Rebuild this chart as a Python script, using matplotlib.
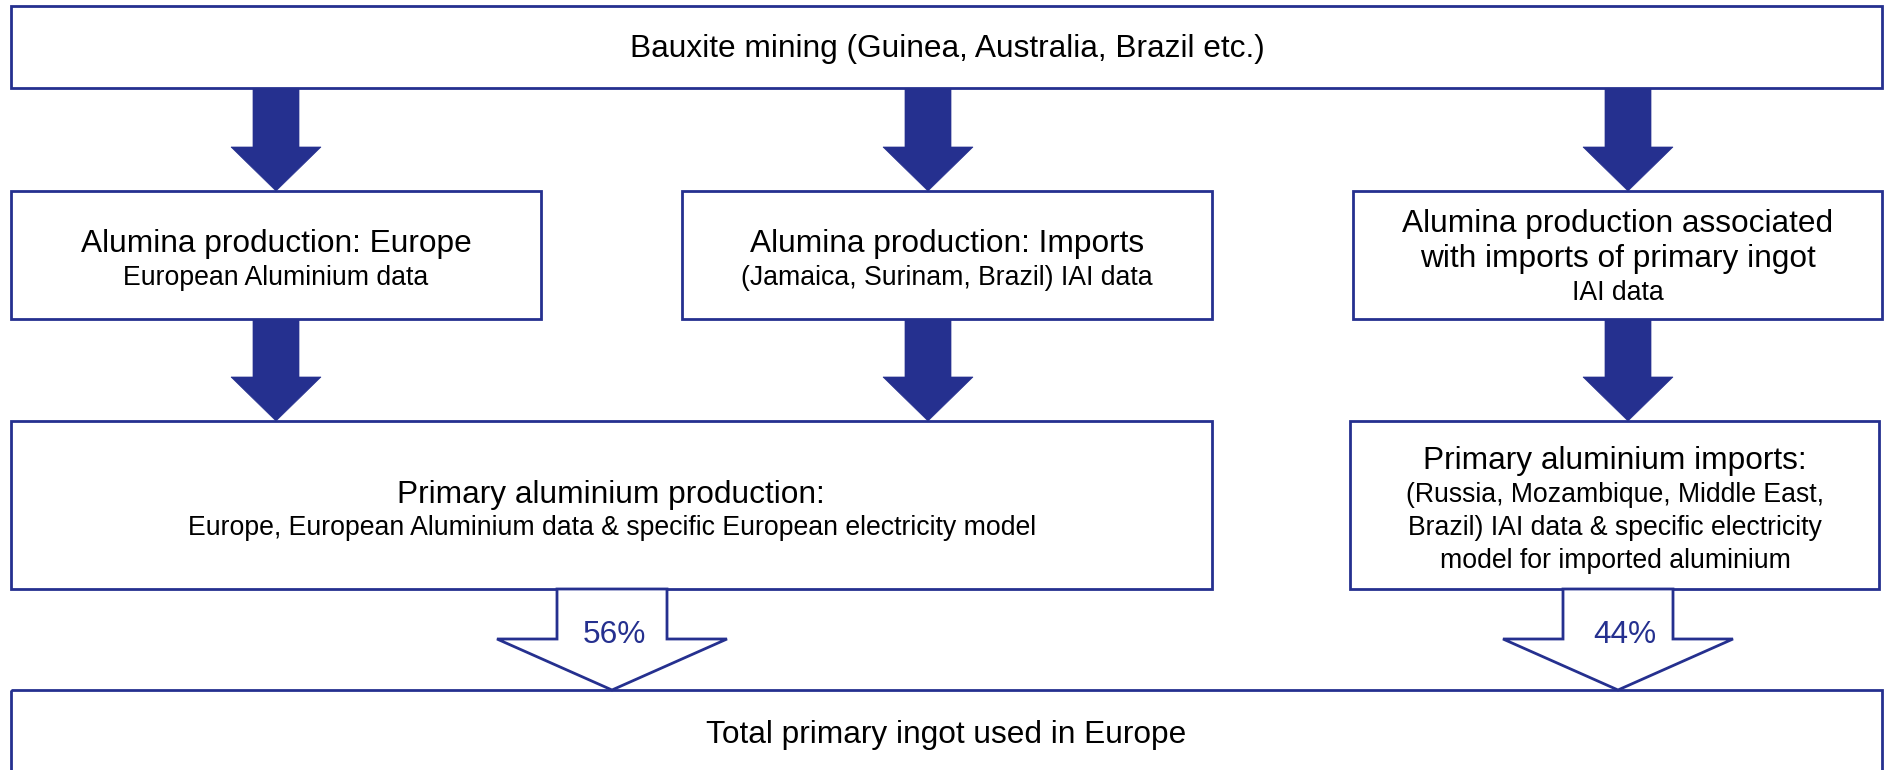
import matplotlib
matplotlib.use("Agg")
import matplotlib.pyplot as plt
from matplotlib.patches import Rectangle, Polygon

# text content of the flowchart
top_label = "Bauxite mining (Guinea, Australia, Brazil etc.)"
alumina_titles = ["Alumina production: Europe",
                  "Alumina production: Imports",
                  "Alumina production associated\nwith imports of primary ingot"]
alumina_notes = ["European Aluminium data",
                 "(Jamaica, Surinam, Brazil) IAI data",
                 "IAI data"]
primary_titles = ["Primary aluminium production:",
                  "Primary aluminium imports:"]
primary_notes = ["Europe, European Aluminium data & specific European electricity model",
                 "(Russia, Mozambique, Middle East,\nBrazil) IAI data & specific electricity\nmodel for imported aluminium"]
shares = ["56%", "44%"]
bottom_label = "Total primary ingot used in Europe"

NAVY = "#25308f"
W, H = 1886, 770
BIG, SMALL = 22.8, 19.2

fig = plt.figure(figsize=(W / 100, H / 100), dpi=100)
ax = fig.add_axes([0, 0, 1, 1])
ax.set_xlim(0, W)
ax.set_ylim(H, 0)
ax.axis("off")

FONT = ["Liberation Sans", "DejaVu Sans"]


def box(x0, y0, x1, y1):
    ax.add_patch(Rectangle((x0, y0), x1 - x0, y1 - y0, fill=False,
                           edgecolor=NAVY, lw=2.0, clip_on=True))


def solid_arrow(cx, y0, yh, y1, sw=23, hw=45):
    pts = [(cx - sw, y0), (cx + sw, y0), (cx + sw, yh), (cx + hw, yh),
           (cx, y1), (cx - hw, yh), (cx - sw, yh)]
    ax.add_patch(Polygon(pts, closed=True, facecolor=NAVY, edgecolor=NAVY, lw=0.5))


def open_arrow(cx, y0, yh, y1, sw=55, hw=115):
    pts = [(cx - sw, y0), (cx + sw, y0), (cx + sw, yh), (cx + hw, yh),
           (cx, y1), (cx - hw, yh), (cx - sw, yh)]
    ax.add_patch(Polygon(pts, closed=True, facecolor="white", edgecolor=NAVY,
                         lw=2.0, joinstyle="miter"))


def lines(x, baselines, s, size, color="black"):
    # one text per line so each baseline sits where the reference has it
    for y, part in zip(baselines, s.split("\n")):
        ax.text(x, y, part, ha="center", va="baseline", fontsize=size,
                family=FONT, color=color)


# top box
box(11, 6, 1882, 88)
lines(947, [57], top_label, BIG)

# alumina row
arrow_x = [276, 928, 1628]
alumina_boxes = [(11, 541), (682, 1212), (1353, 1882)]
for cx, (x0, x1) in zip(arrow_x, alumina_boxes):
    solid_arrow(cx, 89, 147, 191)
    box(x0, 191, x1, 319)

lines(276, [252], alumina_titles[0], BIG)
lines(276, [285], alumina_notes[0], SMALL)
lines(947, [252], alumina_titles[1], BIG)
lines(947, [285], alumina_notes[1], SMALL)
lines(1618, [232, 267], alumina_titles[2], BIG)
lines(1618, [300], alumina_notes[2], SMALL)

# primary aluminium row
for cx in arrow_x:
    solid_arrow(cx, 320, 377, 421)
box(11, 421, 1212, 589)
box(1350, 421, 1879, 589)
lines(611, [503], primary_titles[0], BIG)
lines(612, [535], primary_notes[0], SMALL)
lines(1615, [469], primary_titles[1], BIG)
lines(1615, [502, 535, 568], primary_notes[1], SMALL)

# shares into the total
open_arrow(612, 589, 639, 690)
open_arrow(1618, 589, 639, 690)
for x, s in zip([614, 1625], shares):
    lines(x, [643], s, BIG, color=NAVY)

# bottom box, cut by the lower edge
box(11, 690, 1882, 820)
lines(946, [743], bottom_label, BIG)

fig.savefig("out.png", dpi=100)
